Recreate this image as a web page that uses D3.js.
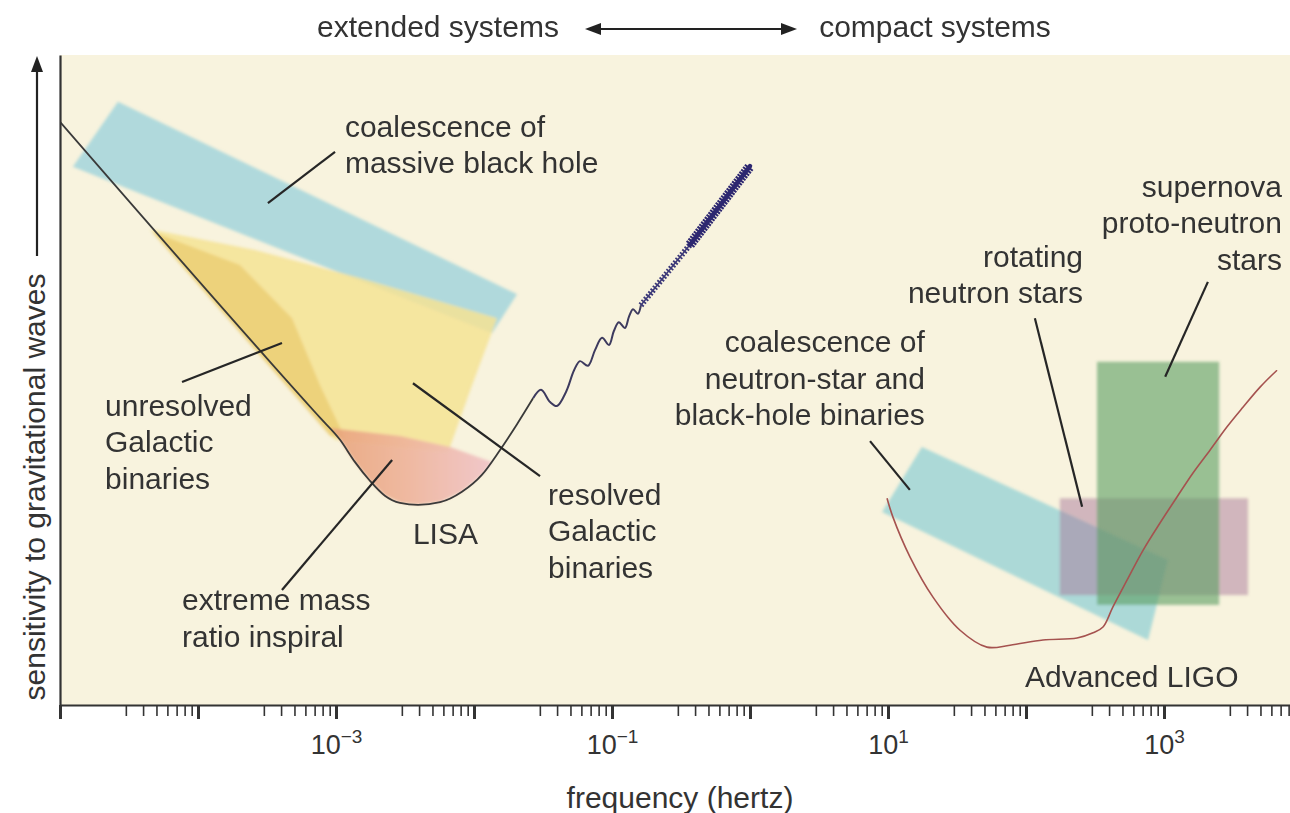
<!DOCTYPE html>
<html>
<head>
<meta charset="utf-8">
<style>
  body { margin: 0; background: #fff; }
  svg { display: block; font-family: "Liberation Sans", Arial, Helvetica, sans-serif; }
</style>
</head>
<body>
<script src="https://cdn.jsdelivr.net/npm/d3@7"></script>
<script>
// values: [frequency in Hz, sensitivity level on an arbitrary 0-100 scale]
var lisaCurve = [[1e-5, 89.7], [7.66e-4, 44.2], [1.07e-3, 40.8], [1.37e-3, 37.4], [1.76e-3, 34.5],
    [2.26e-3, 32.2], [2.91e-3, 31.1], [3.93e-3, 30.8], [5.68e-3, 31.2], [8.18e-3, 32.8],
    [1.14e-2, 35.4], [1.54e-2, 39.2], [2.05e-2, 43.2], [2.68e-2, 47.2]];
var chirpLoose = [[2.68e-2, 47.2], [3.06e-2, 48.5], [3.56e-2, 46.6], [3.99e-2, 46.0], [4.65e-2, 48.2],
    [5.31e-2, 51.5], [5.86e-2, 52.9], [6.70e-2, 52.2], [7.53e-2, 54.6], [8.47e-2, 56.5],
    [9.51e-2, 55.4], [0.103, 57.5], [0.112, 58.9], [0.124, 58.0], [0.133, 59.8], [0.142, 60.9],
    [0.154, 60.2], [0.162, 61.5]];
var chirpDense = [[0.162, 61.5], [0.367, 70.8], [1.0, 82.9]];
var ligoCurve = [[9.84, 31.8], [10.86, 28.9], [14.42, 22.8], [21.18, 16.6], [33.27, 11.5], [52.1, 8.9],
    [76.6, 9.2], [132.7, 10.0], [234.4, 10.3], [306.2, 11.1], [361.4, 12.0], [426.6, 15.1],
    [539.5, 19.2], [704.7, 23.8], [935.4, 28.0], [1242, 32.0], [1622, 35.7], [2153, 39.2],
    [2864, 42.8], [3733, 45.8], [4966, 48.9], [6592, 51.5]];

var mbhBand = [[2.63e-5, 92.8], [2.05e-2, 63.2], [1.35e-2, 57.2], [1.24e-5, 82.8]];
var galacticBand = [[4.49e-5, 73.2], [2.59e-4, 70.0], [1.49e-3, 65.7], [1.47e-2, 59.5],
    [9.68e-3, 49.2], [6.49e-3, 38.9], [9.84e-4, 40.8]];
var unresolvedBand = [[4.65e-5, 72.8], [2.01e-4, 67.7], [4.80e-4, 59.5], [7.66e-4, 49.2],
    [1.16e-3, 41.1], [9.06e-4, 41.4]];
var emriTop = [[9.06e-4, 42.6], [2.91e-3, 41.4], [6.70e-3, 39.7], [1.35e-2, 37.4]];
var nsbhBand = [[17.6, 39.7], [1069, 22.3], [766, 10.0], [9.06, 29.7]];
var rotatingBox = [[176, 16.9], [4060, 31.8]];
var supernovaBox = [[327, 15.4], [2510, 52.8]];

var decadeExponents = [-5, -4, -3, -2, -1, 0, 1, 2, 3, 4];
var labelledExponents = [-3, -1, 1, 3];
var minorMultipliers = [3, 4, 5, 6, 7, 8, 9];

var annotations = [
    {lines: ["coalescence of", "massive black hole"], at: [1.16e-3, 87.4], anchor: "start", leader: [[3.21e-4, 77.2], [9.84e-4, 85.1]]},
    {lines: ["unresolved", "Galactic", "binaries"], at: [2.12e-5, 44.5], anchor: "start", leader: [[4.06e-4, 55.7], [7.66e-5, 49.7]]},
    {lines: ["extreme mass", "ratio inspiral"], at: [7.66e-5, 14.6], anchor: "start", leader: [[2.55e-3, 37.7], [4.06e-4, 17.7]]},
    {lines: ["LISA"], at: [3.61e-3, 24.8], anchor: "start", leader: null},
    {lines: ["resolved", "Galactic", "binaries"], at: [3.44e-2, 30.8], anchor: "start", leader: [[3.61e-3, 49.5], [3.01e-2, 35.2]]},
    {lines: ["coalescence of", "neutron-star and", "black-hole binaries"], at: [18.5, 54.3], anchor: "end", leader: [[7.41, 40.6], [14.4, 33.1]]},
    {lines: ["rotating", "neutron stars"], at: [259, 67.4], anchor: "end", leader: [[116, 59.5], [255, 30.5]]},
    {lines: ["supernova", "proto-neutron", "stars"], at: [7160, 78.2], anchor: "end", leader: [[2080, 65.1], [1020, 50.5]]},
    {lines: ["Advanced LIGO"], at: [98.4, 2.8], anchor: "start", leader: null}
];

var width = 1290;
var height = 813;
var textColor = "#333";

var svg = d3.select("body").append("svg").attr("width", width).attr("height", height);

var x = d3.scaleLog().domain([1e-5, 1e4]).range([60, 1302]);
var y = d3.scaleLinear().domain([0, 100]).range([705, 55]);

var defs = svg.append("defs");
defs.append("clipPath").attr("id", "plot-clip").append("rect")
    .attr("x", x(1e-5)).attr("y", y(100))
    .attr("width", width - x(1e-5)).attr("height", y(0) - y(100));
defs.append("filter").attr("id", "soft")
    .append("feGaussianBlur").attr("stdDeviation", 1.4);
var emriGrad = defs.append("linearGradient").attr("id", "emri-grad")
    .attr("gradientUnits", "userSpaceOnUse")
    .attr("x1", x(1e-3)).attr("x2", x(1.35e-2)).attr("y1", 0).attr("y2", 0);
emriGrad.append("stop").attr("offset", "0%").attr("stop-color", "#e9a67e");
emriGrad.append("stop").attr("offset", "45%").attr("stop-color", "#eeb49a");
emriGrad.append("stop").attr("offset", "100%").attr("stop-color", "#f0c4c8");

svg.append("rect")
    .attr("x", x(1e-5)).attr("y", y(100))
    .attr("width", width - x(1e-5)).attr("height", y(0) - y(100))
    .attr("fill", "#f8f3de");

var plot = svg.append("g").attr("clip-path", "url(#plot-clip)");
var areas = plot.append("g").attr("filter", "url(#soft)");

var poly = d3.line()
    .x(function (d) { return x(d[0]); })
    .y(function (d) { return y(d[1]); });

areas.append("path").attr("d", poly(mbhBand) + "Z")
    .attr("fill", "#a7d6dc").attr("opacity", 0.9);
areas.append("path").attr("d", poly(galacticBand) + "Z")
    .attr("fill", "#f4e394").attr("opacity", 0.85);
areas.append("path").attr("d", poly(unresolvedBand) + "Z")
    .attr("fill", "#e9c96c").attr("opacity", 0.7);

// EMRI patch: top edge, bottom follows the LISA bucket
var emriBottom = lisaCurve.filter(function (d) {
    return d[0] >= 1.07e-3 && d[0] <= 1.14e-2;
}).reverse();
areas.append("path").attr("d", poly(emriTop.concat(emriBottom)) + "Z")
    .attr("fill", "url(#emri-grad)").attr("opacity", 0.92);

areas.append("path").attr("d", poly(nsbhBand) + "Z")
    .attr("fill", "#a3d6d6").attr("opacity", 0.9);

function box(b, color, op) {
    areas.append("rect")
        .attr("x", x(b[0][0])).attr("y", y(b[1][1]))
        .attr("width", x(b[1][0]) - x(b[0][0]))
        .attr("height", y(b[0][1]) - y(b[1][1]))
        .attr("fill", color).attr("opacity", op);
}
box(rotatingBox, "#a97a9c", 0.5);
box(supernovaBox, "#5ea066", 0.62);

// curves
var smooth = d3.line()
    .x(function (d) { return x(d[0]); })
    .y(function (d) { return y(d[1]); })
    .curve(d3.curveMonotoneX);
var wiggle = d3.line()
    .x(function (d) { return x(d[0]); })
    .y(function (d) { return y(d[1]); })
    .curve(d3.curveCatmullRom.alpha(0.5));

plot.append("path").attr("d", smooth(lisaCurve))
    .attr("fill", "none").attr("stroke", "#3a3a3a").attr("stroke-width", 1.8);
plot.append("path").attr("d", wiggle(chirpLoose))
    .attr("fill", "none").attr("stroke", "#3d3a5e").attr("stroke-width", 2)
    .attr("stroke-linejoin", "round");
// the late chirp is too dense to follow: a hatched stroke stands in for it
plot.append("path").attr("d", poly(chirpDense.slice(0, 2)))
    .attr("fill", "none").attr("stroke", "#3c3878").attr("stroke-width", 6)
    .attr("stroke-dasharray", "1.8 1.8");
plot.append("path").attr("d", poly(chirpDense.slice(0, 2)))
    .attr("fill", "none").attr("stroke", "#3c3878").attr("stroke-width", 1.5);
plot.append("path").attr("d", poly(chirpDense.slice(1)))
    .attr("fill", "none").attr("stroke", "#2d2770").attr("stroke-width", 10)
    .attr("stroke-dasharray", "2 1");
plot.append("path").attr("d", poly(chirpDense.slice(1)))
    .attr("fill", "none").attr("stroke", "#2d2770").attr("stroke-width", 4.5)
    .attr("stroke-linecap", "round");

plot.append("path").attr("d", wiggle(ligoCurve))
    .attr("fill", "none").attr("stroke", "#a5524f").attr("stroke-width", 1.6);

// annotations
var lineGap = 36.5;
annotations.forEach(function (a) {
    if (a.leader) {
        svg.append("path").attr("d", poly(a.leader))
            .attr("fill", "none").attr("stroke", "#262626").attr("stroke-width", 2.2);
    }
    var t = svg.append("text")
        .attr("x", x(a.at[0])).attr("y", y(a.at[1]))
        .attr("text-anchor", a.anchor)
        .attr("font-size", 30).attr("fill", textColor);
    a.lines.forEach(function (line, i) {
        t.append("tspan").attr("x", x(a.at[0])).attr("dy", i === 0 ? 0 : lineGap).text(line);
    });
});

// axes
var majorTicks = decadeExponents.map(function (e) { return Math.pow(10, e); });
var minorTicks = [];
decadeExponents.slice(0, -1).forEach(function (e) {
    minorMultipliers.forEach(function (k) { minorTicks.push(k * Math.pow(10, e)); });
});

var minorAxis = svg.append("g").attr("transform", "translate(0," + y(0) + ")")
    .call(d3.axisBottom(x).tickValues(minorTicks).tickSize(11).tickSizeOuter(0).tickFormat(""));
minorAxis.select(".domain").remove();
minorAxis.selectAll(".tick line").attr("stroke", "#333").attr("stroke-width", 1.6);

var majorAxis = svg.append("g").attr("transform", "translate(0," + y(0) + ")")
    .call(d3.axisBottom(x).tickValues(majorTicks).tickSize(14).tickSizeOuter(0).tickPadding(16).tickFormat(""));
majorAxis.select(".domain").attr("stroke", "#333").attr("stroke-width", 2.2);
majorAxis.selectAll(".tick line").attr("stroke", "#333").attr("stroke-width", 3);
majorAxis.selectAll(".tick text").each(function (d) {
    var e = Math.round(Math.log10(d));
    var t = d3.select(this);
    if (labelledExponents.indexOf(e) < 0) return;
    t.attr("font-size", 27).attr("font-family", "Liberation Sans, Arial, sans-serif")
        .attr("fill", textColor).attr("dy", "0.71em");
    t.text("10");
    t.append("tspan").attr("dy", -11).attr("font-size", 19).text(String(e).replace("-", "\u2212"));
});

svg.append("g").attr("transform", "translate(" + x(1e-5) + ",0)")
    .call(d3.axisLeft(y).tickValues([]).tickSizeOuter(0))
    .select(".domain").attr("stroke", "#333").attr("stroke-width", 2.2);

// axis titles
svg.append("text").attr("x", 680).attr("y", 808).attr("text-anchor", "middle")
    .attr("font-size", 30).attr("fill", textColor).text("frequency (hertz)");

svg.append("text").attr("transform", "translate(45,487) rotate(-90)")
    .attr("text-anchor", "middle").attr("font-size", 30).attr("fill", textColor)
    .text("sensitivity to gravitational waves");
svg.append("line").attr("x1", 37).attr("x2", 37).attr("y1", 256).attr("y2", 70)
    .attr("stroke", "#222").attr("stroke-width", 2.2);
svg.append("path").attr("d", "M37,56 L31,72 L43,72 Z").attr("fill", "#222");

// top caption with double arrow
svg.append("text").attr("x", 438).attr("y", 37).attr("text-anchor", "middle")
    .attr("font-size", 30).attr("fill", textColor).text("extended systems");
svg.append("text").attr("x", 935).attr("y", 37).attr("text-anchor", "middle")
    .attr("font-size", 30).attr("fill", textColor).text("compact systems");
svg.append("line").attr("x1", 598).attr("x2", 784).attr("y1", 29).attr("y2", 29)
    .attr("stroke", "#222").attr("stroke-width", 2.2);
svg.append("path").attr("d", "M585,29 L601,23 L601,35 Z").attr("fill", "#222");
svg.append("path").attr("d", "M797,29 L781,23 L781,35 Z").attr("fill", "#222");
</script>
</body>
</html>
